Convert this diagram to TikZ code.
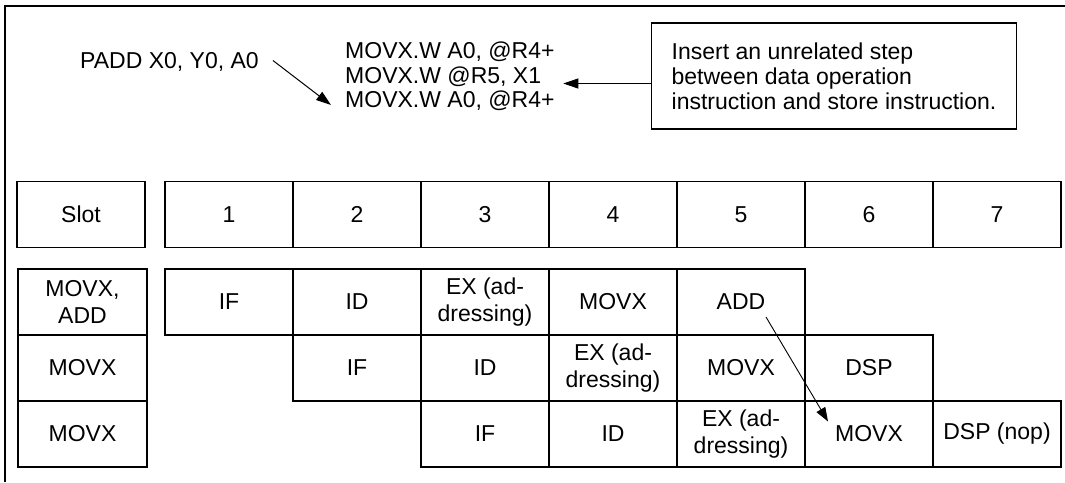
\documentclass[tikz,border=0pt]{standalone}
\usepackage{fontspec}
\setmainfont{Liberation Sans}
\usetikzlibrary{arrows.meta,calc}
\begin{document}
\begin{tikzpicture}[x=1pt,y=-1pt,
  txt/.style={inner sep=0pt, font=\fontsize{23}{24.5}\selectfont},
  cell/.style={draw, line width=1.1pt, minimum width=128pt, minimum height=66pt,
    inner sep=0pt, align=center, font=\fontsize{23}{27}\selectfont},
  lab/.style={cell, minimum width=129pt},
  arr/.style={line width=1pt, -{Triangle[length=15pt,width=10pt]}},
  thinarr/.style={line width=0.9pt, -{Triangle[length=14pt,width=10pt]}}]
\useasboundingbox (0,0) rectangle (1065,482);
\draw[line width=2.5pt] (5,482) -- (5,6) -- (1065,6);

% top text
\node[txt, anchor=west] (padd) at (80,61.5) {PADD X0, Y0, A0};
\node[txt, anchor=west] (l1) at (345,52) {MOVX.W A0, @R4+};
\node[txt, anchor=west] (l2) at (345,76.5) {MOVX.W @R5, X1};
\node[txt, anchor=west] (l3) at (345,101) {MOVX.W A0, @R4+};
\node[draw, line width=1.1pt, minimum width=365pt, minimum height=106pt,
  inner sep=0pt, align=left,
  font=\fontsize{23}{25}\selectfont] (note) at (834,76)
  {Insert an unrelated step\\between data operation\\instruction and store instruction.};
\coordinate (pa) at ($(padd.east)+(14,-1)$);
\coordinate (pb) at ($(l3.west)+(-14,4)$);
\draw[arr] (pa) -- (pb);
\coordinate (nb) at ($(l2.east)+(22,7)$);
\draw[arr] (note.west |- nb) -- (nb);

% header row
\node[lab, minimum width=128pt] (slot) at (81,214.5) {Slot};
\foreach \k in {1,...,7}{
  \node[cell] (h\k) at ({165+128*(\k-1)+64},214.5) {\k};
}

% row labels
\node[lab] (rl1) at (82.5,302) {MOVX,\\ADD};
\node[lab] (rl2) at (82.5,368) {MOVX};
\node[lab] (rl3) at (82.5,434) {MOVX};

% row 1: cols 1-5
\foreach \t [count=\k] in {IF,ID,{EX (ad-\\dressing)},MOVX,ADD}{
  \node[cell] (a\k) at ({165+128*(\k-1)+64},302) {\t};
}
% row 2: cols 2-6
\foreach \t [count=\k from 2] in {IF,ID,{EX (ad-\\dressing)},MOVX,DSP}{
  \node[cell] (b\k) at ({165+128*(\k-1)+64},368) {\t};
}
% row 3: cols 3-7
\foreach \t [count=\k from 3] in {IF,ID,{EX (ad-\\dressing)},MOVX,DSP (nop)}{
  \node[cell] (c\k) at ({165+128*(\k-1)+64},434) {\t};
}

\coordinate (da) at ($(a5.center)+(25,15)$);
\coordinate (db) at ($(c6.center)+(-41,-12.5)$);
\draw[thinarr] (da) -- (db);
\end{tikzpicture}
\end{document}
